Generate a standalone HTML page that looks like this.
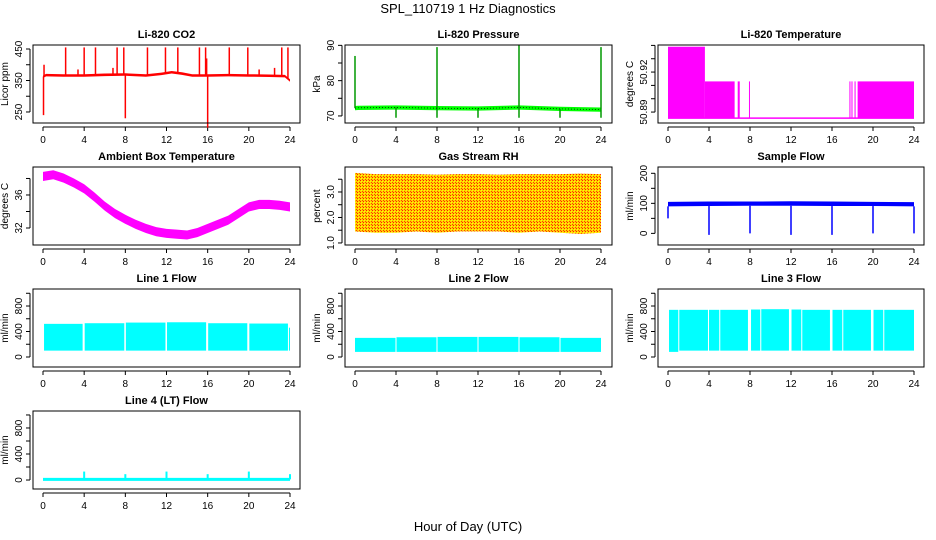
<!DOCTYPE html>
<html><head><meta charset="utf-8"><style>
body{margin:0;background:#fff}
svg{display:block;font-family:"Liberation Sans",sans-serif}
</style></head><body>
<svg id="c" width="936" height="540" viewBox="0 0 936 540" xmlns="http://www.w3.org/2000/svg">
<defs>
<pattern id="rhpat" width="3" height="3" patternUnits="userSpaceOnUse">
<rect width="3" height="3" fill="#ffd000"/><rect x="0" y="0" width="1" height="1" fill="#ff2000"/><rect x="2" y="2" width="1" height="1" fill="#ff4000"/><rect x="1" y="1" width="1" height="1" fill="#ffff00"/>
</pattern>
</defs>
<text x="468" y="13" font-size="13" text-anchor="middle">SPL_110719  1 Hz Diagnostics</text>
<text x="468" y="531" font-size="13" text-anchor="middle">Hour of Day (UTC)</text>
</svg>
<script>
// ---- data ----
var xTicks=[0,4,8,12,16,20,24];
var co2Hours=[0,0.3,2,4,6,8,10,11.5,12.5,13.5,14.5,16,18,20,22,23.5,24];
var co2Base=[362,367,366,366,368,369,366,371,376,372,366,366,367,366,365,364,350];
var co2SpikeHours=[2.2,4.0,5.1,7.2,7.85,10.15,11.9,13.1,15.2,15.8,18.1,19.9,23.2,23.8,0.05,8.0,16.0,0.1,3.4,6.8,15.9,21.0,22.5];
var co2SpikeVals=[455,455,455,455,455,455,455,455,455,455,455,455,455,455,240,230,200,400,385,390,420,385,390];
var presHours=[0,0.3,4,8,12,16,20,24];
var presBase=[72.2,72.3,72.4,72.2,72.1,72.4,72.0,71.8];
var presSpikeHours=[0,8,16,24,4,8,12,16,20,24];
var presSpikeVals=[87,89.5,90,89.5,69.5,69.5,69.5,69.5,69.5,69.5];
var ltSegStart=[0,3.6,6.8,7.9,17.7,17.9,18.2,18.5];
var ltSegEnd=[3.6,6.5,7.0,7.95,17.8,18.0,18.3,24];
var ltSegTop=[50.939,50.913,50.913,50.913,50.913,50.913,50.913,50.913];
var ltFloor=50.8855;
var ambHours=[0,1,2,3,4,5,6,7,8,9,10,11,12,13,14,15,16,17,18,19,20,21,22,23,24];
var ambMid=[38.3,38.5,38.1,37.5,36.8,35.8,34.7,33.8,33.1,32.5,32.0,31.6,31.4,31.3,31.2,31.5,32.0,32.5,33.0,33.8,34.6,34.9,34.9,34.8,34.6];
var rhHours=[0,2,4,6,8,10,12,14,16,18,20,22,24];
var rhHigh=[3.75,3.7,3.7,3.7,3.68,3.7,3.7,3.68,3.7,3.7,3.7,3.72,3.7];
var rhLow=[1.45,1.4,1.4,1.45,1.4,1.45,1.45,1.45,1.4,1.45,1.4,1.35,1.4];
var sfHours=[0,4,8,12,16,20,24];
var sfHigh=[105,106,106,107,106,105,104];
var sfLow=[90,91,92,92,91,91,90];
var sfDipHours=[0,4,8,12,16,20,24];
var sfDipVals=[50,-5,0,-5,-5,0,0];
var l1Start=[0.1,4.05,8.05,12.05,16.05,20.05,23.9];
var l1End=[3.85,7.9,11.9,15.85,19.85,23.8,24];
var l1High=[520,530,540,545,530,525,460];
var l1Low=[100,100,100,100,100,100,100];
var l2Start=[0,4.05,8.05,12.05,16.05,20.05];
var l2End=[3.95,7.95,11.95,15.95,19.95,24];
var l2High=[300,310,315,315,310,300];
var l2Low=[80,80,80,80,80,80];
var l3Start=[0.1,1.1,4.0,5.1,8.1,9.1,12.05,13.1,16.05,17.1,20.05,21.1];
var l3End=[1.0,3.9,5.0,7.8,9.0,11.8,13.0,15.8,17.0,19.8,21.0,24];
var l3High=[740,740,740,740,745,750,745,740,740,740,740,740];
var l3Low=[80,100,100,100,100,100,100,100,100,100,100,100];
var l4Hours=[0,24];
var l4Base=[10,10];
var l4SpikeHours=[4,8,12,16,20,24];
var l4SpikeVals=[130,90,130,90,130,90];

// ---- layout ----
var colL=[33,345,658],colR=[300,612,924],colX0=[43,355,668],colX24=[290,601,914];
var rowT=[45,167,289,411],rowB=[123,245,367,489];
var svg=document.getElementById('c');
var NS='http://www.w3.org/2000/svg';
function mk(tag,at,parent){var e=document.createElementNS(NS,tag);for(var k in at)e.setAttribute(k,at[k]);(parent||svg).appendChild(e);return e;}

function panel(c,r,name,title,ylab,ymin,ymax,ticks,labels){
  var g=mk('g',{});
  
  
  var L=colL[c],R=colR[c],T=rowT[r],B=rowB[r];
  var p={g:g,L:L,R:R,T:T,B:B,
    x:function(h){return colX0[c]+(colX24[c]-colX0[c])*h/24;},
    y:function(v){return B-(v-ymin)/(ymax-ymin)*(B-T);}};
  var t=mk('text',{x:(L+R)/2,y:T-7,'font-size':11,'font-weight':'bold','text-anchor':'middle'},g);t.textContent=title;
  
  
  // x axis
  var ax=mk('g',{stroke:'#000','stroke-width':1},g);
  
  
  mk('line',{x1:p.x(0),x2:p.x(24),y1:B+4,y2:B+4},ax);
  xTicks.forEach(function(h){
    mk('line',{x1:p.x(h),x2:p.x(h),y1:B+4,y2:B+8},ax);
    var tl=mk('text',{x:p.x(h),y:B+20,'font-size':10,'text-anchor':'middle',stroke:'none'},ax);tl.textContent=h;
  });
  var ay=mk('g',{stroke:'#000','stroke-width':1},g);
  
  
  mk('line',{x1:L-3,x2:L-3,y1:p.y(ticks[0]),y2:p.y(ticks[ticks.length-1])},ay);
  ticks.forEach(function(v,i){
    var yy=p.y(v);
    mk('line',{x1:L-7,x2:L-3,y1:yy,y2:yy},ay);
    if(labels[i]!==''){
      var tl=mk('text',{x:L-11,y:yy,'font-size':10,'text-anchor':'middle',stroke:'none',transform:'rotate(-90 '+(L-11)+' '+yy+')'},ay);tl.textContent=labels[i];
    }
  });
  var yl=mk('text',{x:L-25,y:(T+B)/2,'font-size':10,'text-anchor':'middle',transform:'rotate(-90 '+(L-25)+' '+((T+B)/2)+')'},g);yl.textContent=ylab;
  
  
  p.plot=mk('g',{},g);
  
  
  var box=mk('rect',{x:L,y:T,width:R-L,height:B-T,fill:'none',stroke:'#000'},g);
  
  
  return p;
}
function line(p,hs,vs,col,w,dash){mk('polyline',{points:hs.map(function(h,i){return p.x(h)+','+p.y(vs[i]);}).join(' '),fill:'none',stroke:col,'stroke-width':w,'stroke-dasharray':dash||'none'},p.plot);}
function band(p,hs,hi,lo,fill){var pts=hs.map(function(h,i){return p.x(h)+','+p.y(hi[i]);});for(var i=hs.length-1;i>=0;i--)pts.push(p.x(hs[i])+','+p.y(lo[i]));mk('polygon',{points:pts.join(' '),fill:fill},p.plot);}
function spikes(p,hs,vs,baseH,baseV,col,w){hs.forEach(function(h,i){var b=interp(baseH,baseV,h);mk('line',{x1:p.x(h),x2:p.x(h),y1:p.y(b),y2:p.y(vs[i]),stroke:col,'stroke-width':w},p.plot);});}
function interp(hs,vs,h){for(var i=0;i<hs.length-1;i++){if(h<=hs[i+1])return vs[i]+(vs[i+1]-vs[i])*(h-hs[i])/(hs[i+1]-hs[i]);}return vs[vs.length-1];}
function segs(p,st,en,hi,lo,fill){st.forEach(function(s,i){var lv=Array.isArray(lo)?lo[i]:lo;mk('rect',{x:p.x(s),y:p.y(hi[i]),width:Math.max(1,p.x(en[i])-p.x(s)),height:p.y(lv)-p.y(hi[i]),fill:fill},p.plot);});}

// CO2
var p=panel(0,0,'co2','Li-820 CO2','Licor ppm',215,462.7,[250,300,350,400,450],['250','','350','','450']);
band(p,co2Hours,co2Base.map(function(v){return v+4;}),co2Base.map(function(v){return v-4;}),'#ff0000');
spikes(p,co2SpikeHours,co2SpikeVals,co2Hours,co2Base,'#ff0000',1.5);
// Pressure
p=panel(1,0,'pressure','Li-820 Pressure','kPa',68.0,90.1,[70,75,80,85,90],['70','','80','','90']);
band(p,presHours,presBase.map(function(v){return v+0.6;}),presBase.map(function(v){return v-0.6;}),'#00ff00');
spikes(p,presSpikeHours,presSpikeVals,presHours,presBase,'#00ff00',1.5);
spikes(p,presSpikeHours,presSpikeVals,presHours,presBase,'#000',0.6);
line(p,presHours,presBase,'#000',0.7,'1 2');
// Li-820 temperature
p=panel(2,0,'li820-temperature','Li-820 Temperature','degrees C',50.8818,50.9403,[50.89,50.90,50.91,50.92,50.93,50.94],['50.89','','','50.92','','']);
segs(p,ltSegStart,ltSegEnd,ltSegTop,ltFloor,'#ff00ff');
line(p,[0,24],[ltFloor,ltFloor],'#ff00ff',1.5);
// Ambient
p=panel(0,1,'ambient-temperature','Ambient Box Temperature','degrees C',29.94,39.39,[32,34,36,38],['32','','36','']);
band(p,ambHours,ambMid.map(function(v){return v+0.5;}),ambMid.map(function(v){return v-0.6;}),'#ff00ff');
// RH
p=panel(1,1,'gas-stream-rh','Gas Stream RH','percent',0.92,3.98,[1.0,1.5,2.0,2.5,3.0,3.5],['1.0','','2.0','','3.0','']);
band(p,rhHours,rhHigh,rhLow,'url(#rhpat)');
// Sample flow
p=panel(2,1,'sample-flow','Sample Flow','ml/min',-38.7,221,[0,50,100,150,200],['0','','100','','200']);
band(p,sfHours,sfHigh,sfLow,'#0000ff');
spikes(p,sfDipHours,sfDipVals,sfHours,sfLow,'#0000ff',1.5);
// Line flows
p=panel(0,2,'line-1-flow','Line 1 Flow','ml/min',-157,1067,[0,200,400,600,800,1000],['0','','400','','800','']);
segs(p,l1Start,l1End,l1High,l1Low,'#00ffff');
p=panel(1,2,'line-2-flow','Line 2 Flow','ml/min',-157,1067,[0,200,400,600,800,1000],['0','','400','','800','']);
segs(p,l2Start,l2End,l2High,l2Low,'#00ffff');
p=panel(2,2,'line-3-flow','Line 3 Flow','ml/min',-157,1067,[0,200,400,600,800,1000],['0','','400','','800','']);
segs(p,l3Start,l3End,l3High,l3Low,'#00ffff');
p=panel(0,3,'line-4-flow','Line 4 (LT) Flow','ml/min',-138,1061,[0,200,400,600,800,1000],['0','','400','','800','']);
line(p,l4Hours,l4Base,'#00ffff',3);
spikes(p,l4SpikeHours,l4SpikeVals,l4Hours,l4Base,'#00ffff',2);
</script>
</body></html>
